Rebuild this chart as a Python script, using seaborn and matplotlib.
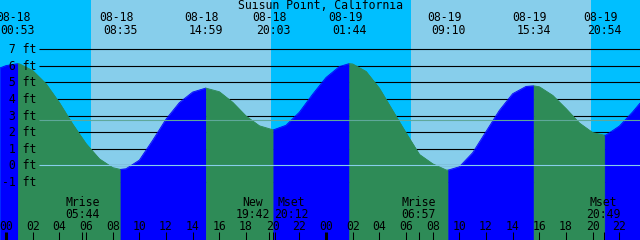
import matplotlib
matplotlib.use("Agg")
import matplotlib.pyplot as plt
import matplotlib.transforms as mtransforms
import numpy as np
import pandas as pd
import seaborn as sns

# ---------------- data ----------------
title = "Suisun Point, California"

# tide curve: hours after 08-18 00:00, height in feet
hours = [-0.45, 0, 0.883, 1, 2, 3, 4, 5, 6, 7, 8, 8.583, 9, 10, 11, 12, 13, 14,
         14.983, 16, 17, 18, 19, 20.05, 21, 22, 23, 24, 25, 25.733, 26, 27, 28,
         29, 30, 31, 32, 33, 33.167, 34, 35, 36, 37, 38, 39, 39.567, 40, 41,
         42, 43, 44, 44.9, 45, 46, 47, 47.55]
heights = [5.88, 6.02, 6.14, 6.13, 5.72, 4.92, 3.78, 2.48, 1.30, 0.38, -0.15,
           -0.26, -0.22, 0.30, 1.50, 2.78, 3.78, 4.42, 4.66, 4.44, 3.80, 2.97,
           2.38, 2.13, 2.41, 3.20, 4.29, 5.30, 5.96, 6.14, 6.12, 5.67, 4.65,
           3.30, 1.95, 0.65, 0.08, -0.29, -0.30, -0.10, 0.75, 2.03, 3.31, 4.32,
           4.76, 4.80, 4.74, 4.22, 3.42, 2.55, 1.97, 1.81, 1.82, 2.36, 3.22,
           3.75]

event_dates = ["08-18", "08-18", "08-18", "08-18", "08-19", "08-19", "08-19", "08-19"]
event_times = ["00:53", "08:35", "14:59", "20:03", "01:44", "09:10", "15:34", "20:54"]

sunrise_hours = [6.375, 30.375]
sunset_hours = [19.875, 43.875]

moon_labels = ["Mrise", "New", "Mset", "Mrise", "Mset"]
moon_times = ["05:44", "19:42", "20:12", "06:57", "20:49"]
moon_dates = ["08-18", "08-18", "08-18", "08-19", "08-19"]

level_ticks = [7, 6, 5, 4, 3, 2, 1, 0, -1]
mean_level = 2.72
hour_ticks = list(range(0, 49, 2))

# ---------------- style ----------------
NIGHT = "#00BFFF"
DAY = "#87CEEB"
RISE = "#0000FF"
FALL = "#2E8B57"
MSL = "#5FA89A"
DATUM = "#87CEEB"
FS = 8.3
W, H = 640, 240
CHAR = FS * 100 / 72 * 0.602

sns.set_style("white")
plt.rcParams["font.family"] = ["DejaVu Sans Mono", "DejaVu Sans"]

fig = plt.figure(figsize=(6.4, 2.4), dpi=100, facecolor=NIGHT)
ax = fig.add_axes([0, 0, 1, 1])
ax.set_facecolor(NIGHT)
XMIN, XMAX = -0.45, 47.55
YMIN, YMAX = -4.531, 9.988
for s in ax.spines.values():
    s.set_visible(False)
ax.set_xticks([])
ax.set_yticks([])

px_per_h = W / (XMAX - XMIN)


def px_to_h(px):
    return XMIN + px / px_per_h


def to_hours(date, t):
    day = 0 if date == "08-18" else 1
    hh, mm = map(int, t.split(":"))
    return day * 24 + hh + mm / 60


def yfrac(px):
    return 1 - px / H


blend = mtransforms.blended_transform_factory(ax.transData, ax.transAxes)
blend_left = mtransforms.blended_transform_factory(ax.transAxes, ax.transData)

# day shading
for sr, ss in zip(sunrise_hours, sunset_hours):
    ax.axvspan(sr, ss, color=DAY, lw=0, zorder=0)

# level lines (behind water)
x_line0 = px_to_h(39)
ax.hlines(level_ticks, x_line0, XMAX, colors="black", lw=0.8, zorder=1)

# tide fill, split at extremes
ev_h = [to_hours(d, t) for d, t in zip(event_dates, event_times)]
hrs = np.array(hours)
hts = np.array(heights)
bounds = [hours[0]] + ev_h + [hours[-1]]
for a, b in zip(bounds[:-1], bounds[1:]):
    m = (hrs >= a - 0.01) & (hrs <= b + 0.01)
    xs, ys = hrs[m], hts[m]
    col = RISE if ys[-1] > ys[0] else FALL
    ax.fill_between(xs, ys, YMIN, color=col, lw=0.4, edgecolor=col, zorder=2)
    seg = pd.DataFrame({"h": xs, "ft": ys})
    sns.lineplot(data=seg, x="h", y="ft", color=col, lw=0.6, ax=ax,
                 estimator=None, sort=True, zorder=2.1)

# datum and mean lines
ax.hlines([0], x_line0, XMAX, colors=DATUM, lw=0.8, zorder=3)
ax.hlines([mean_level], x_line0, XMAX, colors=MSL, lw=0.8, zorder=3)

# left level labels
tr_left = mtransforms.offset_copy(blend_left, fig=fig, y=-4, units="dots")
for lv in level_ticks:
    ax.text(1.5 / W, lv, f"{lv:2d} ft", transform=tr_left, ha="left",
            va="baseline", fontsize=FS, color="black", zorder=6)

# title
ax.text(0.5, yfrac(9.3), title, transform=ax.transAxes, ha="center",
        va="baseline", fontsize=FS, color="black", zorder=6)

# tide event labels
tr_date = mtransforms.offset_copy(blend, fig=fig, x=-4, units="dots")
for h, d, t in zip(ev_h, event_dates, event_times):
    ax.text(h, yfrac(21.3), d, transform=tr_date, ha="center", va="baseline",
            fontsize=FS, color="black", zorder=6)
    ax.text(h, yfrac(34.3), t, transform=blend, ha="center", va="baseline",
            fontsize=FS, color="black", zorder=6)

# hour ticks and labels
for h in hour_ticks:
    midnight = h % 24 == 0
    ax.plot([h, h], [yfrac(232), 0], transform=blend, color="black",
            lw=2.2 if midnight else 0.75, solid_capstyle="butt", zorder=6)
    ax.text(h, yfrac(230), f"{h % 24:02d}", transform=blend, ha="center",
            va="baseline", fontsize=FS, color="black", zorder=6)

# moon events: ticks and labels, pushed apart when they overlap
moon_h = [to_hours(d, t) for d, t in zip(moon_dates, moon_times)]
centers = [(h - XMIN) * px_per_h for h in moon_h]
min_sep = 5 * CHAR + 4
for i in range(len(centers) - 1):
    gap = centers[i + 1] - centers[i]
    if gap < min_sep:
        push = (min_sep - gap) / 2
        centers[i] -= push
        centers[i + 1] += push
for h, c, lab, t in zip(moon_h, centers, moon_labels, moon_times):
    ax.plot([h, h], [yfrac(232), 0], transform=blend, color="black", lw=0.75,
            solid_capstyle="butt", zorder=6)
    xh = px_to_h(c)
    ax.text(xh, yfrac(206), lab, transform=blend, ha="center", va="baseline",
            fontsize=FS, color="black", zorder=6)
    ax.text(xh, yfrac(218.3), t, transform=blend, ha="center", va="baseline",
            fontsize=FS, color="black", zorder=6)

ax.set_xlim(XMIN, XMAX)
ax.set_ylim(YMIN, YMAX)
ax.set_xlabel("")
ax.set_ylabel("")
if ax.get_legend() is not None:
    ax.get_legend().remove()

fig.savefig("out.png", dpi=100, facecolor=NIGHT)
